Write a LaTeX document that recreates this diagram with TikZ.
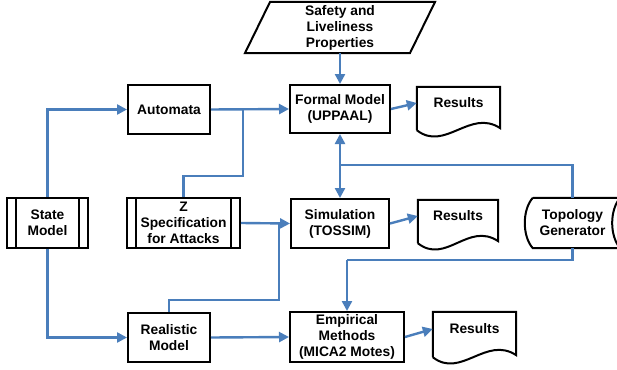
\documentclass[tikz,border=0pt]{standalone}
\usepackage{fontspec}
\setmainfont{Liberation Sans}
\usetikzlibrary{arrows.meta}
\definecolor{linkblue}{HTML}{4A7EBB}

\begin{document}
\begin{tikzpicture}[x=1pt,y=-1pt,
  every node/.style={font=\fontsize{13.8}{16}\selectfont\bfseries, align=center, inner sep=0pt},
  box/.style={draw, line width=2pt, minimum height=49pt},
  edge/.style={line width=2pt},
  link/.style={linkblue, line width=2.4pt},
  flow/.style={link, -{Triangle[length=10pt,width=10pt]}}]
\useasboundingbox (0,0) rectangle (617,369);
% sources
\node (prop) at (340,27.5) [minimum width=170pt, minimum height=51pt] {Safety and\\Liveliness\\Properties};
\draw[edge] (245,53) -- (270,2) -- (435,2) -- (410,53) -- cycle;
\node[box, minimum width=81pt, minimum height=50pt] (state) at (47.5,223) {State\\Model};
\node[box, minimum width=113pt, minimum height=50pt] (zspec) at (183.5,223) {Z\\Specification\\for Attacks};
\draw[edge] ([xshift=10pt]state.north west) -- ([xshift=10pt]state.south west);
\draw[edge] ([xshift=-10pt]state.north east) -- ([xshift=-10pt]state.south east);
\draw[edge] ([xshift=10pt]zspec.north west) -- ([xshift=10pt]zspec.south west);
\draw[edge] ([xshift=-10pt]zspec.north east) -- ([xshift=-10pt]zspec.south east);
\node (topo) at (572.5,223) [minimum width=95pt, minimum height=50pt] {Topology\\Generator};
\draw[edge] ([xshift=8pt]topo.north west) -- (topo.north east)
  .. controls +(-10.7,12) and +(-10.7,-12) .. (topo.south east)
  -- ([xshift=8pt]topo.south west)
  .. controls +(-10.7,-12) and +(-10.7,12) .. ([xshift=8pt]topo.north west);
% models
\node[box, minimum width=82pt] (automata) at (169,109.5) {Automata};
\node[box, minimum width=82pt] (realistic) at (169,337.5) {Realistic\\Model};
\node[box, minimum width=100pt, minimum height=48pt] (formal) at (340,109) {Formal Model\\(UPPAAL)};
\node[box, minimum width=98pt] (sim) at (340,223.5) {Simulation\\(TOSSIM)};
\node[box, minimum width=114pt, minimum height=50pt] (empirical) at (347,337) {Empirical\\Methods\\(MICA2 Motes)};
% results
\node (res1) at (458.5,103) [minimum width=83pt, minimum height=32pt] {Results};
\node (res2) at (458,216) [minimum width=80pt, minimum height=32pt] {Results};
\node (res3) at (474.5,329) [minimum width=83pt, minimum height=34pt] {Results};
\foreach \r in {res1,res2,res3}
  \draw[edge] ([yshift=-11pt]\r.south west) -- (\r.north west) -- (\r.north east)
    -- ([yshift=-9pt]\r.south east)
    .. controls +(-30,-20) and +(28,22) .. ([yshift=-11pt]\r.south west);
% joins
\coordinate (zbend) at (243,176);
\coordinate (zjoin) at (243,109.5);
\coordinate (rbend) at (279,300);
\coordinate (rjoin) at (279,223.5);
\coordinate (simjoin) at (340,165);
\coordinate (empjoin) at (347,260);
% connectors
\draw[flow] (prop.south) -- (formal.north);
\draw[flow] (state.north) |- (automata.west);
\draw[flow] (state.south) |- (realistic.west);
\draw[flow] (automata.east) -- (formal.west);
\draw[link] (zspec.north) |- (zbend) -- (zjoin);
\draw[flow] (zspec.east) -- (sim.west);
\draw[link] (realistic.north) |- (rbend) -- (rjoin);
\draw[flow] (realistic.east) -- (empirical.west);
\draw[link] (topo.north) |- (simjoin);
\draw[flow] (simjoin) -- (formal.south);
\draw[flow] (simjoin) -- (sim.north);
\draw[link] (topo.south) |- (empjoin);
\draw[flow] (empjoin) -- (empirical.north);
\draw[flow] (formal.east) -- (res1.west);
\draw[flow] (sim.east) -- (res2.west);
\draw[flow] (empirical.east) -- (res3.west);
\end{tikzpicture}
\end{document}
